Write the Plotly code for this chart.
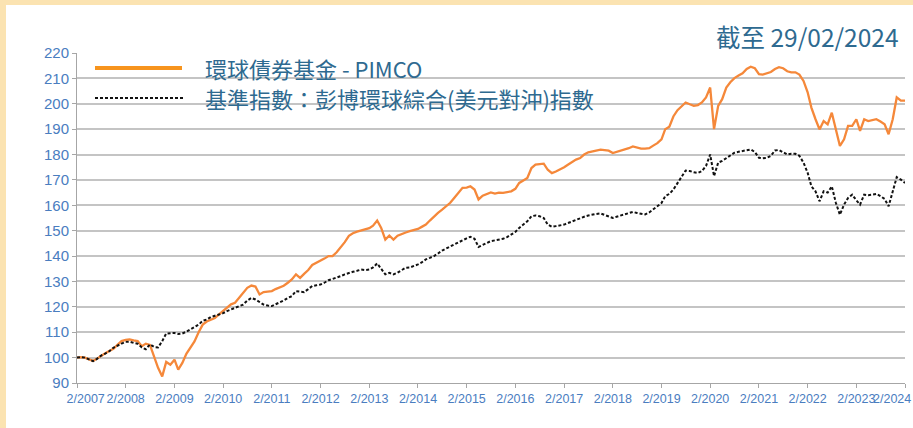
import plotly.graph_objects as go

# ---------------- data (monthly readings, Feb 2007 .. Feb 2024) ----------------
start_year, start_month = 2007, 2

fund_pimco = [
    # 2007 Feb-Dec
    100, 100.2, 100, 99.3, 98.7, 99.6, 100.8, 101.7, 102.6, 103.5, 105,
    # 2008
    106.5, 107, 107.2, 106.8, 106.5, 104.5, 105.5, 105, 100, 96, 92.6, 98.3,
    # 2009
    97.2, 99.2, 95.3, 97.9, 101.5, 104, 106.4, 110, 113, 114.2, 115, 115.6,
    # 2010
    117, 118.3, 119.8, 121, 121.6, 123.5, 125.5, 127.5, 128.4, 128, 124.9, 125.8,
    # 2011
    126, 126.2, 127, 127.6, 128.3, 129.5, 130.8, 132.8, 131.4, 133, 134.5, 136.5,
    # 2012
    137.3, 138, 139, 140, 140, 141.5, 143.3, 145.5, 148, 149, 149.6, 150.1,
    # 2013
    150.5, 151, 152, 154, 151.1, 146.5, 148.1, 146.5, 148, 148.8, 149.3, 149.8,
    # 2014
    150.3, 150.7, 151.5, 152.4, 154, 155.7, 157, 158.3, 159.5, 161, 163, 164.9,
    # 2015
    166.9, 167, 167.5, 166.2, 162.3, 163.8, 164.3, 165.1, 164.6, 165, 164.9, 165.2,
    # 2016
    165.5, 166.5, 168.8, 169.8, 170.8, 174.7, 176, 176.2, 176.4, 174, 172.7, 173.3,
    # 2017
    174, 175, 176, 177, 178, 178.6, 180, 180.9, 181.3, 181.7, 181.9, 181.7,
    # 2018
    181.5, 180.6, 181, 181.7, 182, 182.5, 183.2, 182.8, 182.3, 182.3, 182.5, 183.5,
    # 2019
    184.5, 186, 190, 191, 195, 197.5, 199, 200.5, 199.8, 199.2, 199.5, 200.5,
    # 2020
    202.5, 206.4, 190, 199.2, 201.8, 206.4, 208.5, 210.1, 211.1, 212, 213.7, 214.6,
    # 2021
    214, 211.7, 211.5, 212, 212.5, 213.7, 214.4, 214, 212.8, 212.4, 212.4, 211.5,
    # 2022
    209, 204.5, 198.5, 193.9, 189.9, 193.2, 191.9, 196.5, 189.3, 183.4, 186, 191.3,
    # 2023
    191.3, 193.9, 189.3, 193.9, 193.2, 193.5, 193.9, 193, 191.9, 188, 193.9, 202.5,
    # 2024 Jan-Feb
    201.2, 201.2,
]

benchmark = [
    # 2007 Feb-Dec
    100, 100.2, 100, 99.3, 98.6, 99.5, 100.8, 101.6, 102.5, 103.9, 104.8,
    # 2008
    105.5, 106.2, 106.3, 105.8, 105.5, 104, 103.3, 105.2, 104.2, 104, 106.5, 109.5,
    # 2009
    109.7, 109.7, 109.3, 109.5, 110.2, 111, 112, 113, 114.5, 115, 116, 116.5,
    # 2010
    117, 117.5, 118.3, 119, 119.5, 120.3, 120.9, 122.5, 123.5, 122.9, 121.8, 120.9,
    # 2011
    120.5, 120.3, 121, 121.6, 122.5, 123.5, 124.2, 126.2, 126, 125.8, 127, 128.2,
    # 2012
    128.5, 128.8, 129.5, 130.5, 131, 131.5, 132.1, 132.8, 133.4, 133.8, 134.2, 134.7,
    # 2013
    134.5, 134.7, 135.5, 137.1, 135, 132.8, 133.4, 132.8, 133.5, 134.5, 135.4, 135.5,
    # 2014
    136, 136.7, 137.5, 138.7, 139.3, 140, 141, 142.2, 143, 143.8, 144.6, 145.5,
    # 2015
    146.5, 147, 147.6, 146.8, 143.6, 144.3, 145.2, 145.9, 146.2, 146.5, 146.8, 147.5,
    # 2016
    148.5, 149.5, 151.1, 152.5, 153.7, 155.7, 156, 155.7, 155, 152.4, 151.5, 151.8,
    # 2017
    152, 152.4, 153, 153.7, 154.3, 155, 155.5, 156, 156.4, 156.6, 156.8, 156.3,
    # 2018
    155.5, 155, 155.5, 156, 156.3, 156.8, 157.4, 157, 156.6, 156.4, 157.2, 158.3,
    # 2019
    159.5, 160.9, 163.6, 164.5, 166.2, 168.8, 171, 173.7, 173.5, 173, 172.8, 173.5,
    # 2020
    175.5, 180, 171.5, 176.8, 177.5, 178.5, 179.5, 180.7, 181.1, 181.3, 181.7, 182,
    # 2021
    181, 178.7, 178.5, 178.7, 179.5, 181.6, 181.8, 181, 180, 180.3, 180.3, 179.5,
    # 2022
    176.8, 172.8, 167.5, 165.5, 161.6, 165.5, 165, 167.5, 160.9, 156.3, 160.3, 162.9,
    # 2023
    164.2, 162, 160.3, 164.2, 164, 164.2, 164.5, 163.6, 162.5, 159.6, 165.5, 171.1,
    # 2024 Jan-Feb
    170.1, 168.8,
]

tick_years = list(range(2007, 2025))
tick_labels = [f"2/{y}" for y in tick_years]
y_ticks = list(range(90, 221, 10))

series_names = ["環球債券基金 - PIMCO", "基準指數：彭博環球綜合(美元對沖)指數"]
title_text = "截至 29/02/2024"

# ---------------- build ----------------
def month_dates(n):
    out = []
    y, m = start_year, start_month
    for _ in range(n):
        out.append(f"{y:04d}-{m:02d}-01")
        m += 1
        if m > 12:
            m = 1
            y += 1
    return out

dates_f = month_dates(len(fund_pimco))
dates_b = month_dates(len(benchmark))
tick_vals = [f"{y}-02-01" for y in tick_years]

# edge labels kept inside the frame, as in the original
NBSP = "\u00a0"
shown_labels = list(tick_labels)
shown_labels[0] = NBSP * 5 + shown_labels[0]
shown_labels[-1] = ""          # drawn as a right-aligned annotation instead

W, H = 913, 428
L, R, T, B = 77, 8, 53, 45
PW, PH = W - L - R, H - T - B

def px(x):
    return (x - L) / PW

def py(y):
    return (H - B - y) / PH

TEXT_BLUE = "#2E6A90"
TICK_BLUE = "#4A7DBF"
ORANGE = "#F5883A"
BEIGE = "#FBE3B1"
TICK_FONT = dict(family="Liberation Sans", size=12.5, color=TICK_BLUE)

fig = go.Figure()
fig.add_trace(go.Scatter(x=dates_f, y=fund_pimco, mode="lines", name=series_names[0],
                         line=dict(color=ORANGE, width=2.3), showlegend=False))
fig.add_trace(go.Scatter(x=dates_b, y=benchmark, mode="lines", name=series_names[1],
                         line=dict(color="#111111", width=2, dash="3px,2px"), showlegend=False))

shapes = [
    # beige frame strips
    dict(type="rect", xref="paper", yref="paper", x0=px(0), x1=px(W), y0=py(5), y1=py(0),
         fillcolor=BEIGE, line=dict(width=0), layer="above"),
    dict(type="rect", xref="paper", yref="paper", x0=px(0), x1=px(6), y0=py(H), y1=py(0),
         fillcolor=BEIGE, line=dict(width=0), layer="above"),
    # legend samples
    dict(type="line", xref="paper", yref="paper", x0=px(95), x1=px(182), y0=py(68), y1=py(68),
         line=dict(color="#F7941D", width=4)),
    dict(type="line", xref="paper", yref="paper", x0=px(95), x1=px(183), y0=py(98), y1=py(98),
         line=dict(color="#111111", width=2, dash="3px,2px")),
]

annotations = [
    dict(text=series_names[0], xref="paper", yref="paper", x=px(203), y=py(68),
         xanchor="left", yanchor="middle", showarrow=False,
         font=dict(family="Noto Sans CJK TC", size=22, color=TEXT_BLUE)),
    dict(text=series_names[1], xref="paper", yref="paper", x=px(203), y=py(98),
         xanchor="left", yanchor="middle", showarrow=False,
         font=dict(family="Noto Sans CJK TC", size=22, color=TEXT_BLUE)),
    dict(text=title_text, xref="paper", yref="paper", x=px(900), y=py(37),
         xanchor="right", yanchor="middle", showarrow=False,
         font=dict(family="Noto Sans CJK TC", size=24.5, color=TEXT_BLUE)),
    dict(text=tick_labels[-1], xref="paper", yref="paper", x=px(912), y=py(399),
         xanchor="right", yanchor="middle", showarrow=False, borderpad=0,
         font=TICK_FONT),
]

fig.update_layout(
    width=W, height=H,
    margin=dict(l=L, r=R, t=T, b=B, pad=0, autoexpand=False),
    paper_bgcolor="white", plot_bgcolor="white",
    shapes=shapes, annotations=annotations,
    showlegend=False,
)
fig.update_xaxes(
    type="date", range=["2007-02-01", "2024-02-01"],
    tickvals=tick_vals, ticktext=shown_labels, tickangle=0,
    showgrid=False, showline=True, linecolor="#A6A6A6", linewidth=1,
    ticks="outside", ticklen=4, tickcolor="#A6A6A6",
    tickfont=TICK_FONT,
    ticklabeloverflow="allow", automargin=False,
    zeroline=False,
)
fig.update_yaxes(
    range=[90, 220], tickvals=y_ticks,
    showgrid=True, gridcolor="#C4C4C4", gridwidth=1.5,
    showline=True, linecolor="#A6A6A6", linewidth=1,
    ticks="outside", ticklen=4, tickcolor="#A6A6A6",
    tickfont=dict(family="Liberation Sans", size=15, color=TICK_BLUE),
    automargin=False,
    zeroline=False,
)

fig.write_html(
    "out.html",
    config={"displayModeBar": False},
    post_script="document.body.style.margin='0';document.body.style.overflow='hidden';",
)
